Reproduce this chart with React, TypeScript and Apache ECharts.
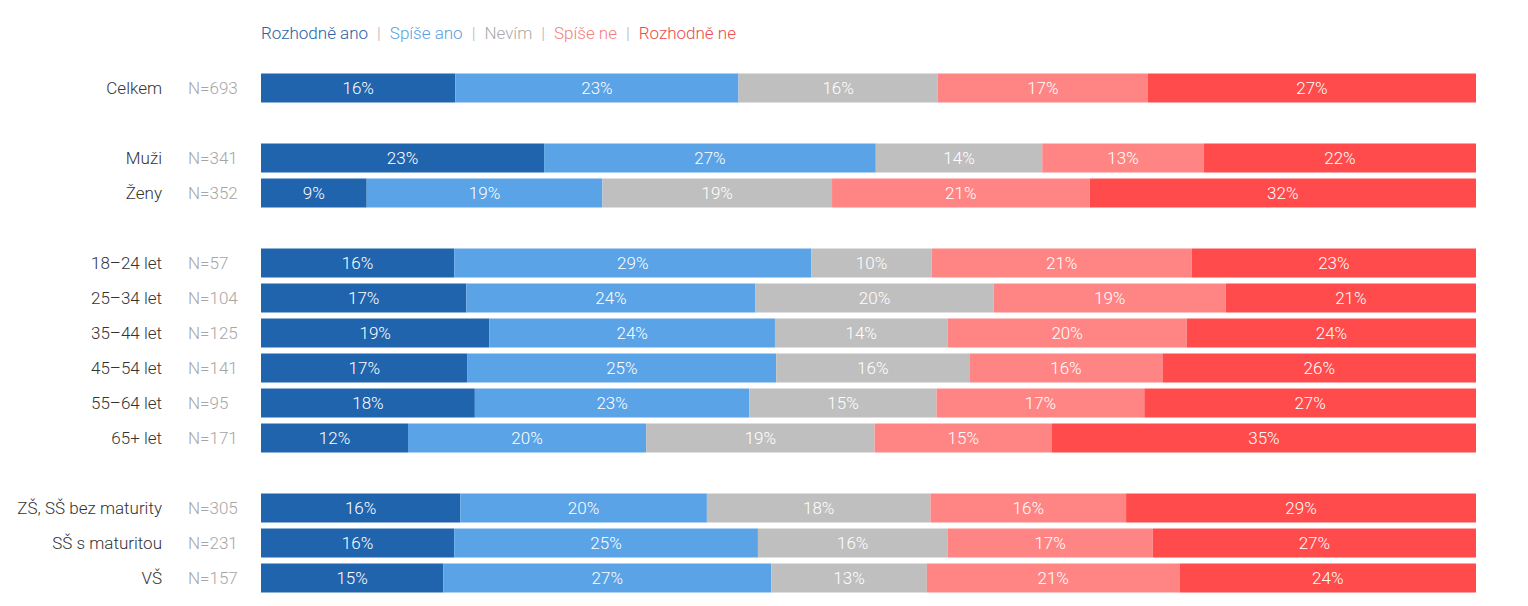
import React, { useEffect, useRef } from "react";
import * as echarts from "echarts";

const categories = [
  "Celkem", "",
  "Muži", "Ženy", "",
  "18–24 let", "25–34 let", "35–44 let", "45–54 let", "55–64 let", "65+ let", "",
  "ZŠ, SŠ bez maturity", "SŠ s maturitou", "VŠ",
];
const sampleSizes = [
  "N=693", "",
  "N=341", "N=352", "",
  "N=57", "N=104", "N=125", "N=141", "N=95", "N=171", "",
  "N=305", "N=231", "N=157",
];

const seriesNames = ["Rozhodně ano", "Spíše ano", "Nevím", "Spíše ne", "Rozhodně ne"];
const seriesColors = ["#1f64ad", "#5aa3e6", "#bfbfbf", "#ff8585", "#ff4b4b"];
const legendTextColors = ["#2a62a8", "#5a9fe0", "#aaaaaa", "#f58080", "#ec4c4c"];

const rozhodneAno = [16.0, null, 23.3, 8.7, null, 15.9, 16.9, 18.8, 17.0, 17.6, 12.1, null, 16.4, 15.9, 15.0];
const spiseAno = [23.3, null, 27.3, 19.4, null, 29.4, 23.8, 23.5, 25.4, 22.6, 19.6, null, 20.3, 25.0, 27.0];
const nevim = [16.4, null, 13.7, 18.9, null, 9.9, 19.6, 14.2, 15.9, 15.4, 18.8, null, 18.4, 15.6, 12.8];
const spiseNe = [17.3, null, 13.3, 21.2, null, 21.4, 19.1, 19.7, 15.9, 17.1, 14.6, null, 16.1, 16.9, 20.8];
const rozhodneNe = [27.0, null, 22.4, 31.8, null, 23.4, 20.6, 23.8, 25.8, 27.3, 34.9, null, 28.8, 26.6, 24.4];

const seriesValues = [rozhodneAno, spiseAno, nevim, spiseNe, rozhodneNe];

const FONT = "Roboto, 'DejaVu Sans Condensed', sans-serif";
const WEIGHT = 300;
const FS = 17;

export default function App() {
  const ref = useRef<HTMLDivElement>(null);
  useEffect(() => {
    if (!ref.current) return;
    const chart = echarts.init(ref.current, undefined, { renderer: "svg" });
    const rich: Record<string, any> = {
      sep: { fill: "#b5b5b5", fontSize: FS, fontFamily: FONT, fontWeight: WEIGHT, padding: [0, 9, 0, 9] },
    };
    seriesNames.forEach((_, i) => {
      rich["s" + i] = { fill: legendTextColors[i], fontSize: FS, fontFamily: FONT, fontWeight: WEIGHT };
    });
    const legendText = seriesNames
      .map((n, i) => `{s${i}|${n}}`)
      .join("{sep||}");
    chart.setOption({
      animation: false,
      textStyle: { fontFamily: FONT },
      grid: { left: 261, right: 52, top: 70.5, height: 525, containLabel: false, outerBoundsMode: "none" },
      xAxis: {
        type: "value",
        min: 0,
        max: 100,
        show: false,
      },
      yAxis: [
        {
          type: "category",
          data: categories,
          inverse: true,
          axisLine: { show: false },
          axisTick: { show: false },
          splitLine: { show: false },
          axisLabel: {
            color: "#333333",
            fontSize: FS,
            fontFamily: FONT,
            fontWeight: WEIGHT,
            margin: 99,
            interval: 0,
          },
        },
        {
          type: "category",
          data: sampleSizes,
          inverse: true,
          position: "left",
          axisLine: { show: false },
          axisTick: { show: false },
          splitLine: { show: false },
          axisLabel: {
            color: "#a6a6a6",
            fontSize: FS,
            fontFamily: FONT,
            fontWeight: WEIGHT,
            margin: 73,
            align: "left",
            interval: 0,
          },
        },
      ],
      graphic: [
        {
          type: "text",
          left: 261,
          top: 24,
          style: { text: legendText, rich, fontFamily: FONT, fontSize: FS, fontWeight: WEIGHT },
        },
      ],
      series: seriesNames.map((name, i) => ({
        name,
        type: "bar",
        stack: "total",
        yAxisIndex: 0,
        barWidth: 29,
        data: seriesValues[i],
        itemStyle: { color: seriesColors[i] },
        label: {
          show: true,
          position: "inside",
          color: "#ffffff",
          fontSize: FS,
          fontFamily: FONT,
          fontWeight: WEIGHT,
          formatter: (p: any) => (p.value == null ? "" : Math.round(p.value) + "%"),
        },
      })),
    });
    return () => chart.dispose();
  }, []);
  return (
    <div
      ref={ref}
      style={{ position: "absolute", left: 0, top: 0, width: 1528, height: 606, background: "#fff" }}
    />
  );
}
